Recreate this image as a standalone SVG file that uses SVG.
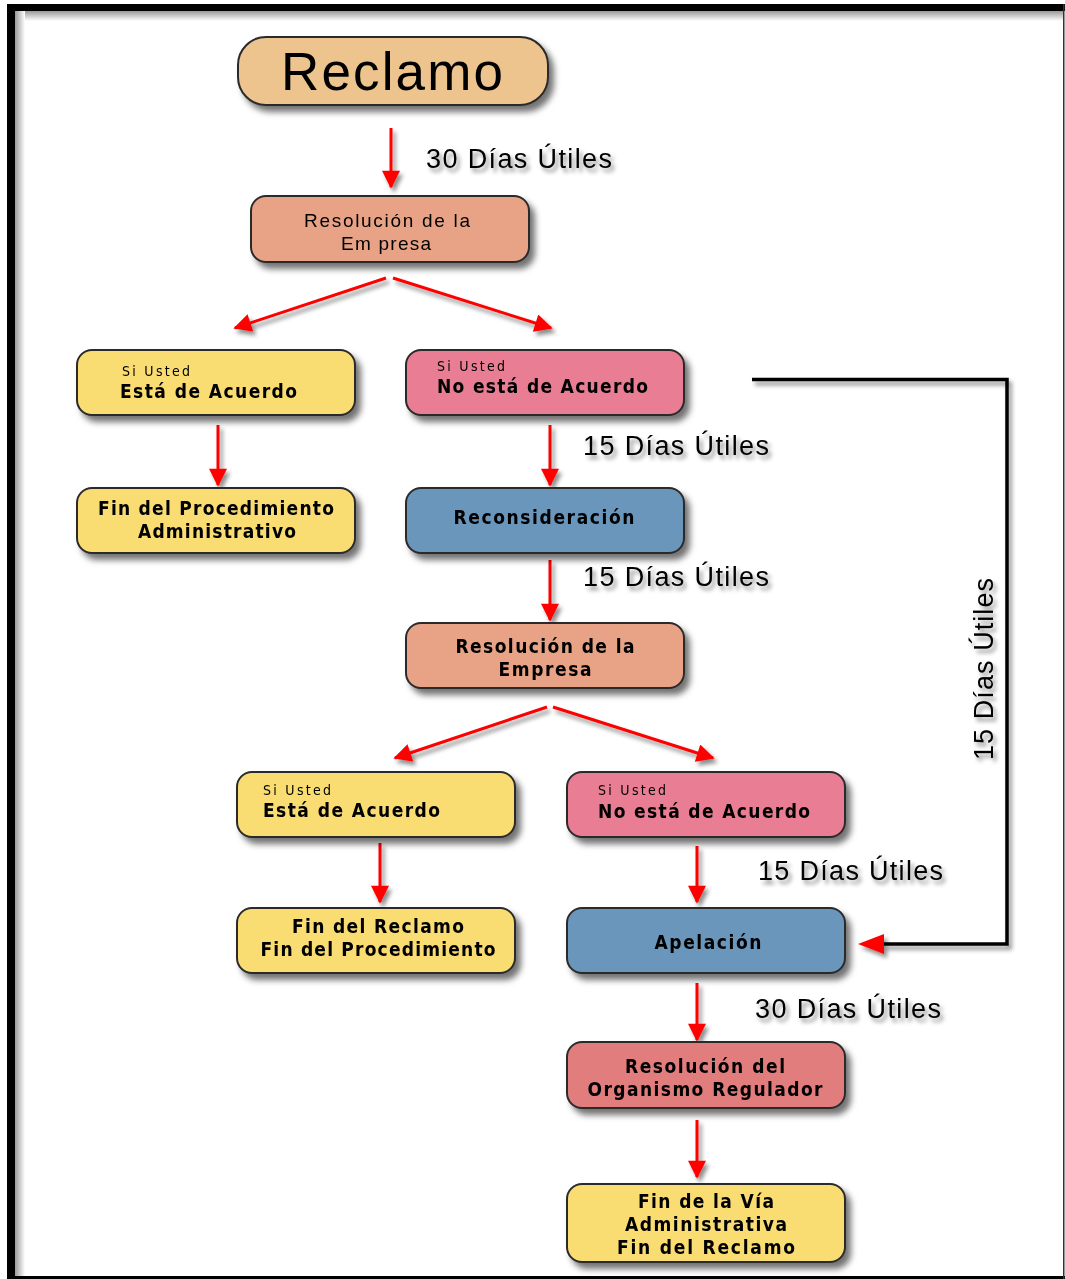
<svg xmlns="http://www.w3.org/2000/svg" width="1065" height="1279" viewBox="0 0 1065 1279">
<defs>
<style>
.n{stroke:#2b2b2b;stroke-width:2}
.t{font-family:"Liberation Sans",Arial,sans-serif;fill:#000;text-anchor:middle}
.b{font-family:"DejaVu Sans Condensed","Liberation Sans",Arial,sans-serif;font-weight:bold;font-size:19px}
.s{font-family:"DejaVu Sans Condensed","Liberation Sans",Arial,sans-serif;font-size:14px}
.l{text-anchor:start}
.lab{font-family:"Liberation Sans",Arial,sans-serif;font-size:27px;fill:#000}
.ar{stroke:#ff0000;stroke-width:3;fill:none}
.yel{fill:#f9dc72}.pnk{fill:#e87d93}.blu{fill:#6a96bb}.sal{fill:#e8a386}.red{fill:#e27d7e}
</style>
<filter id="sh" x="-10%" y="-20%" width="130%" height="150%">
<feDropShadow dx="5" dy="6" stdDeviation="3" flood-color="#000" flood-opacity="0.55"/>
</filter>
<filter id="tsh" x="-10%" y="-30%" width="130%" height="170%">
<feDropShadow dx="3" dy="4" stdDeviation="2" flood-color="#000" flood-opacity="0.45"/>
</filter>
<marker id="ah" viewBox="0 0 20 20" refX="18" refY="10" markerWidth="7" markerHeight="6" markerUnits="strokeWidth" orient="auto">
<path d="M0,0 L20,10 L0,20 Z" fill="#ff0000"/>
</marker>
<linearGradient id="tg" x1="0" y1="0" x2="0" y2="1"><stop offset="0" stop-color="#999"/><stop offset="1" stop-color="#fff"/></linearGradient>
<linearGradient id="lg" x1="0" y1="0" x2="1" y2="0"><stop offset="0" stop-color="#999"/><stop offset="1" stop-color="#fff"/></linearGradient>
</defs>
<rect width="1065" height="1279" fill="#fff"/>
<g id="frame">
<rect x="15" y="11" width="1048" height="10" fill="url(#tg)"/>
<rect x="15" y="11" width="10" height="1266" fill="url(#lg)"/>
<rect x="7" y="4" width="1058" height="7" fill="#000"/>
<rect x="7" y="4" width="8" height="1275" fill="#000"/>
<rect x="7" y="1276" width="1058" height="3" fill="#000"/>
<rect x="1063" y="4" width="1.5" height="1275" fill="#333"/>
</g>
<g id="connectors">
<g filter="url(#tsh)">
<line class="ar" x1="391" y1="128" x2="391" y2="187" marker-end="url(#ah)"/>
<line class="ar" x1="386" y1="278" x2="235" y2="328" marker-end="url(#ah)"/>
<line class="ar" x1="393" y1="278" x2="551" y2="328" marker-end="url(#ah)"/>
<line class="ar" x1="218" y1="425" x2="218" y2="485" marker-end="url(#ah)"/>
<line class="ar" x1="550" y1="425" x2="550" y2="485" marker-end="url(#ah)"/>
<line class="ar" x1="550" y1="560" x2="550" y2="620" marker-end="url(#ah)"/>
<line class="ar" x1="547" y1="707" x2="395" y2="758" marker-end="url(#ah)"/>
<line class="ar" x1="553" y1="707" x2="713" y2="758" marker-end="url(#ah)"/>
<line class="ar" x1="380" y1="843" x2="380" y2="902" marker-end="url(#ah)"/>
<line class="ar" x1="697" y1="846" x2="697" y2="902" marker-end="url(#ah)"/>
<line class="ar" x1="697" y1="983" x2="697" y2="1040" marker-end="url(#ah)"/>
<line class="ar" x1="697" y1="1120" x2="697" y2="1177" marker-end="url(#ah)"/>
<polyline points="752,379.5 1007,379.5 1007,944 880,944" fill="none" stroke="#000" stroke-width="3.5"/>
<polygon points="858,944 884,934 884,954" fill="#ff0000"/>
</g>
</g>
<g id="labels" filter="url(#tsh)">
<text class="lab" x="426" y="168" textLength="186">30 Días Útiles</text>
<text class="lab" x="583" y="455" textLength="186">15 Días Útiles</text>
<text class="lab" x="583" y="586" textLength="186">15 Días Útiles</text>
<text class="lab" x="758" y="880" textLength="185">15 Días Útiles</text>
<text class="lab" x="755" y="1018" textLength="186">30 Días Útiles</text>
<text class="lab" x="0" y="0" transform="translate(993,760) rotate(-90)" textLength="182">15 Días Útiles</text>
</g>
<g id="reclamo" filter="url(#sh)">
<rect class="n" x="238" y="37" width="310" height="68" rx="28" fill="#edc48e"/>
<text class="t" x="392" y="90" font-size="53" textLength="222">Reclamo</text>
</g>
<g id="resolucion1" filter="url(#sh)">
<rect class="n sal" x="251" y="196" width="278" height="66" rx="15"/>
<text class="t" x="387" y="227" font-size="19" textLength="166">Resolución de la</text>
<text class="t" x="386" y="250" font-size="19" textLength="90">Em presa</text>
</g>
<g id="acuerdo1" filter="url(#sh)">
<rect class="n yel" x="77" y="350" width="278" height="65" rx="15"/>
<text class="t s l" x="122" y="376" textLength="68">Si Usted</text>
<text class="t b l" x="120" y="398" textLength="177">Está de Acuerdo</text>
</g>
<g id="noacuerdo1" filter="url(#sh)">
<rect class="n pnk" x="406" y="350" width="278" height="65" rx="15"/>
<text class="t s l" x="437" y="371" textLength="68">Si Usted</text>
<text class="t b l" x="437" y="393" textLength="211">No está de Acuerdo</text>
</g>
<g id="finproc1" filter="url(#sh)">
<rect class="n yel" x="77" y="488" width="278" height="65" rx="15"/>
<text class="t b" x="216" y="515" textLength="236">Fin del Procedimiento</text>
<text class="t b" x="217" y="538" textLength="158">Administrativo</text>
</g>
<g id="reconsideracion" filter="url(#sh)">
<rect class="n blu" x="406" y="488" width="278" height="65" rx="15"/>
<text class="t b" x="544" y="524" textLength="181">Reconsideración</text>
</g>
<g id="resolucion2" filter="url(#sh)">
<rect class="n sal" x="406" y="623" width="278" height="65" rx="15"/>
<text class="t b" x="545" y="653" textLength="179">Resolución de la</text>
<text class="t b" x="545" y="676" textLength="93">Empresa</text>
</g>
<g id="acuerdo2" filter="url(#sh)">
<rect class="n yel" x="237" y="772" width="278" height="65" rx="15"/>
<text class="t s l" x="263" y="795" textLength="68">Si Usted</text>
<text class="t b l" x="263" y="817" textLength="177">Está de Acuerdo</text>
</g>
<g id="noacuerdo2" filter="url(#sh)">
<rect class="n pnk" x="567" y="772" width="278" height="65" rx="15"/>
<text class="t s l" x="598" y="795" textLength="68">Si Usted</text>
<text class="t b l" x="598" y="818" textLength="212">No está de Acuerdo</text>
</g>
<g id="finreclamo" filter="url(#sh)">
<rect class="n yel" x="237" y="908" width="278" height="65" rx="15"/>
<text class="t b" x="378" y="933" textLength="172">Fin del Reclamo</text>
<text class="t b" x="378" y="956" textLength="235">Fin del Procedimiento</text>
</g>
<g id="apelacion" filter="url(#sh)">
<rect class="n blu" x="567" y="908" width="278" height="65" rx="15"/>
<text class="t b" x="708" y="949" textLength="107">Apelación</text>
</g>
<g id="resolucionreg" filter="url(#sh)">
<rect class="n red" x="567" y="1042" width="278" height="66" rx="15"/>
<text class="t b" x="705" y="1073" textLength="160">Resolución del</text>
<text class="t b" x="705" y="1096" textLength="235">Organismo Regulador</text>
</g>
<g id="finvia" filter="url(#sh)">
<rect class="n yel" x="567" y="1184" width="278" height="78" rx="15"/>
<text class="t b" x="706" y="1208" textLength="136">Fin de la Vía</text>
<text class="t b" x="706" y="1231" textLength="162">Administrativa</text>
<text class="t b" x="706" y="1254" textLength="178">Fin del Reclamo</text>
</g>
</svg>
